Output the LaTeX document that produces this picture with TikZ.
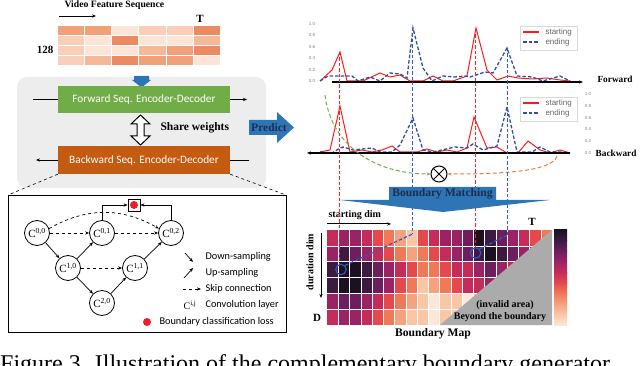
\documentclass[tikz,border=0pt]{standalone}
\usepackage{fontspec}
\setmainfont{Liberation Serif}
\newfontfamily\calfont{Carlito}
\newfontfamily\arialfont{Liberation Sans}
\usepackage{tikz}
\usetikzlibrary{arrows.meta,calc,positioning}

\definecolor{panel}{HTML}{EDEDED}
\definecolor{fwdgreen}{HTML}{70AD47}
\definecolor{bwdbrown}{HTML}{C55A11}
\definecolor{mblue}{HTML}{2E75B6}
\definecolor{navy}{HTML}{1F2D4D}
\definecolor{curvered}{HTML}{FF1A1A}
\definecolor{curveblue}{HTML}{2F4FA8}
\definecolor{linered}{HTML}{FF2020}
\definecolor{lineblue}{HTML}{3558C8}
\definecolor{lossred}{HTML}{EE1C25}
\definecolor{greenc}{HTML}{70AD47}
\definecolor{orangec}{HTML}{ED7D31}
\definecolor{invalid}{HTML}{ABABAB}
% feature cells
\definecolor{f1}{HTML}{FCE4D6}
\definecolor{f2}{HTML}{F9CFBA}
\definecolor{f3}{HTML}{F6B898}
\definecolor{f4}{HTML}{F2A07A}
\definecolor{f5}{HTML}{EE8A62}
% boundary map colours, light to dark
\definecolor{map0}{HTML}{FCE8DA}
\definecolor{map1}{HTML}{F9C6A6}
\definecolor{map2}{HTML}{F5A27E}
\definecolor{map3}{HTML}{F07A58}
\definecolor{map4}{HTML}{E5484D}
\definecolor{map5}{HTML}{C52C5A}
\definecolor{map6}{HTML}{9C2363}
\definecolor{map7}{HTML}{6E1E5C}
\definecolor{map8}{HTML}{3D1A42}
\definecolor{map9}{HTML}{1C1023}

\begin{document}
\begin{tikzpicture}[x=1pt, y=-1pt, >={Stealth[length=4pt,width=3.2pt]},
	conv/.style={circle, draw, line width=0.8pt, minimum size=25pt, inner sep=0pt, font=\fontsize{11}{11}\selectfont},
	bold/.style={font=\bfseries\fontsize{#1}{#1}\selectfont},
	leg/.style={anchor=west, font=\calfont\fontsize{10.3}{11}\selectfont},
	tick/.style={font=\arialfont\fontsize{4.5}{5}\selectfont, text=gray},
	plotleg/.style={anchor=west, font=\arialfont\fontsize{8}{8}\selectfont, text=black!60},
	vline/.style={dash pattern=on 3.4pt off 2pt, line width=1.6pt},
	seqbox/.style={text=white, minimum width=172pt, font=\calfont\fontsize{11.3}{12}\selectfont}]
		\useasboundingbox (0,0) rectangle (640,366);
		\clip (0,0) rectangle (640,366);
		% input feature sequence
		\node[bold=9.7, anchor=west] at (61,5) {Video Feature Sequence};
		\draw[->, line width=0.8pt] (59,16) -- (96,16);
		\node[bold=11] at (200,19) {T};
		\node[bold=11] at (45,50) {128};
		\foreach \row [count=\r from 0] in {{4,4,1,2,2,5},{2,1,5,1,1,3},{2,1,1,3,4,5},{2,3,5,4,4,1}} {
			\foreach \v [count=\c from 0] in \row {
				\fill[f\v, draw=white, line width=0.6pt] ({57+\c*27.2},{25+\r*10}) rectangle ++(27.2,10);
			}
		}
		% encoder-decoder panel
		\fill[panel, rounded corners=10pt] (17,77) rectangle (266,188);
		\fill[mblue] (134,76) -- (149,76) -- (149,80) -- (151,80) -- (141.5,87.5) -- (132,80) -- (134,80) -- cycle;
		\node[seqbox, fill=fwdgreen, minimum height=27pt] (fwd) at (144,99.5) {Forward Seq. Encoder-Decoder};
		\node[seqbox, fill=bwdbrown, minimum height=28pt] (bwd) at (144,160) {Backward Seq. Encoder-Decoder};
		\coordinate (fin) at (33,99.5);
		\coordinate (fout) at (247,99.5);
		\coordinate (bin) at (249,160);
		\coordinate (bout) at (36,160);
		\draw[line width=0.7pt] (fin) -- (fwd.west);
		\draw[->, line width=0.7pt] (fwd.east) -- (fout);
		\draw[line width=0.7pt] (bin) -- (bwd.east);
		\draw[->, line width=0.7pt] (bwd.west) -- (bout);
		\draw[fill=white, line width=1pt] (140.5,115) -- (150,124) -- (144,124) -- (144,136) -- (150,136) -- (140.5,145) -- (131,136) -- (137,136) -- (137,124) -- (131,124) -- cycle;
		\node[bold=11.5, anchor=west] at (157,128) {Share weights};
		% predict arrow
		\fill[mblue] (249,120) -- (277,120) -- (277,112) -- (294,127.5) -- (277,143) -- (277,135) -- (249,135) -- cycle;
		\node[bold=11.5, text=navy] at (269,127.5) {Predict};
		% zoomed network
		\coordinate (inNW) at (8,195);
		\coordinate (inNE) at (286,195);
		\draw[dashed, line width=0.6pt] (bwd.south west) -- (inNW);
		\draw[dashed, line width=0.6pt] (bwd.south east) -- (inNE);
		\draw[line width=0.6pt] (inNW) rectangle (286,332);
		\node[conv] (c00) at (37,233) {C\textsuperscript{0,0}};
		\node[conv] (c01) at (102,233) {C\textsuperscript{0,1}};
		\node[conv] (c02) at (171,233) {C\textsuperscript{0,2}};
		\node[conv] (c10) at (68,268) {C\textsuperscript{1,0}};
		\node[conv] (c11) at (135,268) {C\textsuperscript{1,1}};
		\node[conv] (c20) at (102,303) {C\textsuperscript{2,0}};
		\node[draw, line width=0.8pt, minimum size=12pt, inner sep=0pt] (loss) at (134,205) {};
		\fill[lossred] (loss.center) circle (4);
		\draw[->, line width=0.6pt] (c01.north) |- (loss.west);
		\draw[->, line width=0.6pt] (c02.north) |- (loss.east);
		\draw[->, line width=0.7pt] (c00) -- (c10);
		\draw[->, line width=0.7pt] (c10) -- (c20);
		\draw[->, line width=0.7pt] (c10) -- (c01);
		\draw[->, line width=0.7pt] (c20) -- (c11);
		\draw[->, line width=0.7pt] (c11) -- (c02);
		\draw[->, dashed, line width=0.7pt] (c00) -- (c01);
		\draw[->, dashed, line width=0.7pt] (c01) -- (c02);
		\draw[->, dashed, line width=0.7pt] (c10) -- (c11);
		\draw[->, dashed, line width=0.7pt] (c00.20) to[out=30, in=150] (c02.160);
		% legend
		\draw[->, line width=0.7pt] (185,253) -- (193,262);
		\node[leg] at (202,257) {Down-sampling};
		\draw[->, line width=0.7pt] (184,278) -- (193,268);
		\node[leg] at (202,273) {Up-sampling};
		\draw[->, dashed, line width=0.7pt] (183,289) -- (201,289);
		\node[leg] at (202,289) {Skip connection};
		\node[font=\fontsize{10}{10}\selectfont] at (190,305) {C\textsuperscript{i,j}};
		\node[leg] at (202,305) {Convolution layer};
		\fill[lossred] (147,322) circle (4);
		\node[leg] at (156,322) {Boundary classification loss};
		% forward prediction
		\foreach \v [count=\i from 0] in {0.0,0.2,0.4,0.6,0.8,1.0}
			\node[tick] at (312,{81-\i*11.4}) {\v};
		\draw[curvered, line width=1pt] plot coordinates {(320,81) (332,70) (340,52) (347,81) (363,81) (380,73) (390,77) (400,75) (410,81) (423,81) (433,76) (443,81) (453,81) (467,76) (476,28) (487,70) (497,80) (508,76) (518,78) (532,79) (547,78) (560,80) (570,81)};
		\draw[curveblue, line width=1.3pt, dash pattern=on 3.5pt off 2pt] plot coordinates {(320,81) (328,76) (352,76) (358,81) (370,77) (380,81) (390,73) (400,74) (407,78) (413,28) (423,68) (432,81) (443,76) (455,77) (465,76) (470,77) (485,72) (493,73) (507,48) (517,76) (532,77) (543,81) (560,76) (570,81)};
		\draw[->, line width=1.4pt] (332,82) -- (583,82);
		\node[bold=9.3, anchor=west] at (594,79) {Forward};
		\draw[black!15, fill=white] (520,26) rectangle (577,50);
		\draw[curvered, line width=1.2pt] (523,32) -- (539,32);
		\draw[curveblue, line width=1.3pt, dash pattern=on 3.5pt off 2pt] (523,42) -- (539,42);
		\node[plotleg] at (542,32) {starting};
		\node[plotleg] at (542,42) {ending};
		% backward prediction
		\foreach \v [count=\i from 0] in {0.0,0.2,0.4,0.6,0.8,1.0}
			\node[tick] at (588,{153-\i*11.8}) {\v};
		\draw[curvered, line width=1pt] plot coordinates {(320,152) (330,150) (340,106) (350,152) (362,150) (372,152) (382,150) (392,146) (400,152) (417,152) (427,149) (437,152) (447,150) (457,152) (467,148) (474,117) (487,148) (497,147) (507,153) (518,153) (528,141) (540,150) (550,153) (560,150) (570,153)};
		\draw[curveblue, line width=1.3pt, dash pattern=on 3.5pt off 2pt] plot coordinates {(320,152) (332,153) (340,148) (343,147) (353,150) (372,148) (380,152) (392,152) (400,145) (413,118) (423,150) (433,152) (455,147) (467,148) (473,144) (483,150) (497,146) (507,107) (517,152) (532,152) (540,147) (550,152) (560,152) (570,153)};
		\draw[->, line width=1.4pt] (570,153) -- (307,153);
		\node[bold=9.3, anchor=east] at (640,153) {Backward};
		\draw[black!15, fill=white] (520,97) rectangle (577,121);
		\draw[curvered, line width=1.2pt] (523,103) -- (539,103);
		\draw[curveblue, line width=1.3pt, dash pattern=on 3.5pt off 2pt] (523,113) -- (539,113);
		\node[plotleg] at (542,103) {starting};
		\node[plotleg] at (542,113) {ending};
		% matching of both directions
		\node[circle, draw, line width=1pt, fill=white, minimum size=16pt, inner sep=0pt] (match) at (439,174) {};
		\draw[line width=1pt] (match.45) -- (match.225) (match.135) -- (match.315);
		\coordinate (gstart) at (325,95);
		\coordinate (ostart) at (557,156);
		\draw[->, greenc, line width=1pt, dash pattern=on 4pt off 2.5pt] (gstart) .. controls (332,150) and (380,174) .. (match.west);
		\draw[->, orangec, line width=1pt, dash pattern=on 4pt off 2.5pt] (ostart) .. controls (552,172) and (500,174) .. (match.east);
		% boundary map
		\foreach \row [count=\r from 0] in {{5,6,6,5,4,3,2,1,4,5,6,6,7,9,8,7,6,5,4,3},{6,8,7,6,5,4,3,2,3,4,5,6,7,8,9,8,7,6,5,4},{8,9,9,8,7,6,5,4,3,3,4,5,5,6,7,6,5,5,4,4},{8,9,9,8,7,6,4,3,1,2,3,4,5,5,6,5,5,4,4,3},{6,7,7,6,5,4,3,2,1,0,1,1,0,1,2,2,2,2,2,2},{5,6,6,5,4,3,2,1,1,0,1,1,1,1,1,1,1,1,1,1}} {
			\foreach \v [count=\c from 0] in \row {
				\fill[map\v] ({327+\c*11.25},{230+\r*15.8333}) rectangle ++(11.25,15.8333);
			}
		}
		\foreach \i in {1,...,19}
			\draw[white, line width=0.4pt] ({327+\i*11.25},230) -- ++(0,95);
		\foreach \i in {1,...,5}
			\draw[white, line width=0.4pt] (327,{230+\i*15.8333}) -- ++(225,0);
		\fill[invalid] (440,325) -- (552,230) -- (552,325) -- cycle;
		\node[bold=10] at (505,305) {(invalid area)};
		\node[bold=10] at (500,317) {Beyond the boundary};
		\foreach \a/\b [count=\i from 0] in {9/8,8/7,7/6,6/5,5/4,4/3,3/2,2/1,1/0}
			\shade[top color=map\a, bottom color=map\b] (554,{230+\i*10.5556}) rectangle (567,{230+(\i+1)*10.5556});
		\node[bold=10, anchor=west] at (325,215) {starting dim};
		\draw[->, line width=1pt] (327,224) -- (391,224);
		\node[bold=11] at (532,222) {T};
		\node[bold=10, rotate=90] at (310,262) {duration dim};
		\draw[->, line width=1pt] (321,233) -- (321,298);
		\node[bold=11] at (317,318) {D};
		\node[bold=11.6] at (433,334) {Boundary Map};
		% start and end positions
		\node[circle, draw=lineblue, line width=1.1pt, minimum size=10.5pt, inner sep=0pt] (p1) at (341,269.5) {};
		\node[circle, draw=lineblue, line width=1.1pt, minimum size=10.5pt, inner sep=0pt] (p2) at (475.5,253) {};
		\coordinate (s1) at (339.5,52);
		\coordinate (e1) at (412.5,28);
		\coordinate (s2) at (475.5,29);
		\coordinate (e2) at (507.5,48);
		\coordinate (e1m) at (412.5,234);
		\coordinate (e2m) at (507.5,235);
		\draw[vline, draw=linered] (s1) -- (s1 |- p1.north);
		\draw[vline, draw=linered] (s2) -- (p2.north);
		\draw[vline, draw=lineblue] (e1) -- (e1m);
		\draw[vline, draw=lineblue] (e2) -- (e2m);
		\draw[vline, draw=lineblue, line width=1.2pt] (p1.north east) -- (e1m);
		\draw[vline, draw=lineblue, line width=1.2pt] (p2.north east) -- (e2m);
		% matching arrow
		\fill[mblue] (389,187) -- (496,187) -- (496,200) -- (550,200) -- (443,212) -- (340,200) -- (389,200) -- cycle;
		\node[bold=11.6, text=navy] at (442.5,193.5) {Boundary Matching};
		% caption line, cut by the frame
		\node[anchor=base west, inner sep=0pt, font=\fontsize{24}{24}\selectfont] at (0,371) {Figure 3. Illustration of the complementary boundary generator};
\end{tikzpicture}
\end{document}
